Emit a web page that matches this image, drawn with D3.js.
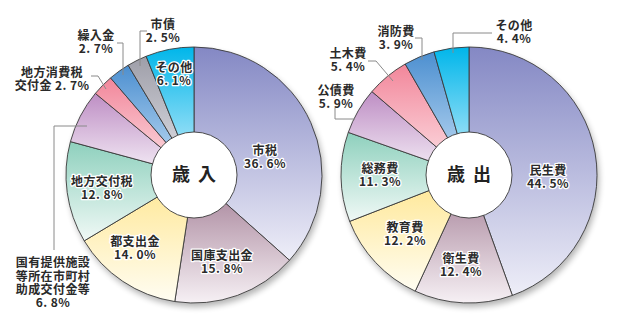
<!DOCTYPE html>
<html><head><meta charset="utf-8">
<script src="https://cdn.jsdelivr.net/npm/d3@7"></script>
<style>
html,body{margin:0;padding:0;background:#fff;}
svg{display:block;}
text{font-family:"Noto Sans CJK JP","Noto Sans",sans-serif;}
</style></head>
<body>
<svg id="chart" width="617" height="331"></svg>
<script>
// ---- data ----
const revenueCategories = ["市税","国庫支出金","都支出金","地方交付税","国有提供施設等所在市町村助成交付金等","地方消費税交付金","繰入金","市債","その他"];
const revenueValues = [36.6, 15.8, 14.0, 12.8, 6.8, 2.7, 2.7, 2.5, 6.1];
const revenueLabelLines = [["市税"],["国庫支出金"],["都支出金"],["地方交付税"],["国有提供施設","等所在市町村","助成交付金等"],["地方消費税","交付金 "],["繰入金"],["市債"],["その他"]];
const expenseCategories = ["民生費","衛生費","教育費","総務費","公債費","土木費","消防費","その他"];
const expenseValues = [44.5, 12.4, 12.2, 11.3, 5.9, 5.4, 3.9, 4.4];
const expenseLabelLines = [["民生費"],["衛生費"],["教育費"],["総務費"],["公債費"],["土木費"],["消防費"],["その他"]];
const centerTitles = [["歳","入"],["歳","出"]];

// ---- styles / layout ----
const palette = {
  indigo:["#8488c4","#eeeef8"],
  mauve:["#a07a92","#f6f0f4"],
  yellow:["#ffe690","#fffdf2"],
  teal:["#8ed0bd","#f0f9f6"],
  purple:["#be8ec4","#f6f0f8"],
  pink:["#f2869a","#fde4e8"],
  blue:["#4c8fd0","#c6e0f6"],
  gray:["#9e9ea8","#e4e4ea"],
  cyan:["#00b6ea","#cdeefb"]
};
const revenueColors = ["indigo","mauve","yellow","teal","purple","pink","blue","gray","cyan"];
const expenseColors = ["indigo","mauve","yellow","teal","purple","pink","blue","cyan"];
const revenueLayout = [
  {pos:[71,-18]},
  {pos:[28,87]},
  {pos:[-59,73]},
  {pos:[-92,13]},
  {pos:[-141,108], lead:[[-107,-49],[-140,-49],[-140,75]]},
  {pos:[-142,-96], inline:true, lead:[[-103,-99],[-96,-99],[-88,-86]]},
  {pos:[-98,-133], lead:[[-77,-132],[-71,-132],[-71,-100]]},
  {pos:[-31,-144], lead:[[-47,-144],[-54,-144],[-54,-109]]},
  {pos:[-20,-101]}
];
const expenseLayout = [
  {pos:[79,2]},
  {pos:[-8,90]},
  {pos:[-64,59]},
  {pos:[-89,0]},
  {pos:[-133,-78], lead:[[-134,-67],[-134,-56],[-114,-56]]},
  {pos:[-121,-115], lead:[[-101,-114],[-93,-114],[-76,-94]]},
  {pos:[-73,-137], lead:[[-54,-137],[-47,-137],[-47,-115]]},
  {pos:[45,-143], lead:[[23,-142],[-16,-142],[-16,-122]]}
];
const R = 128, r0 = 43;

const svg = d3.select("#chart");
const defs = svg.append("defs");
Object.entries(palette).forEach(([k,[c1,c2]])=>{
  const g = defs.append("linearGradient").attr("id","g-"+k).attr("x1",0).attr("y1",0).attr("x2",0).attr("y2",1);
  g.append("stop").attr("offset","0%").attr("stop-color",c1);
  g.append("stop").attr("offset","100%").attr("stop-color",c2);
});
const f = defs.append("filter").attr("id","shadow").attr("x","-20%").attr("y","-20%").attr("width","140%").attr("height","140%");
f.append("feGaussianBlur").attr("stdDeviation",3);

const fmt = v => v.toFixed(1).replace(".", ". ") + "%";

function drawPie(cx, cy, cats, vals, lines, colors, layout, title){
  const g = svg.append("g").attr("transform",`translate(${cx},${cy})`);
  g.append("circle").attr("cx",2).attr("cy",4).attr("r",R).attr("fill","#000").attr("opacity",0.3).attr("filter","url(#shadow)");
  const pie = d3.pie().sort(null).value(d=>d);
  const arcs = pie(vals);
  const arc = d3.arc().innerRadius(0).outerRadius(R);
  g.selectAll("path.slice").data(arcs).enter().append("path")
    .attr("class","slice")
    .attr("d",arc)
    .attr("fill",(d,i)=>`url(#g-${colors[i]})`)
    .attr("stroke","#3a3a3a").attr("stroke-width",0.9).attr("stroke-linejoin","round");
  g.append("circle").attr("r",r0).attr("fill","#fff").attr("stroke","#3a3a3a").attr("stroke-width",0.9);
  title.forEach((ch,k)=>{
    g.append("text").attr("x",k===0?-13:13).attr("y",0).attr("dy","0.36em").attr("text-anchor","middle")
      .attr("font-size",18).attr("font-weight","bold").attr("fill","#222").text(ch);
  });
  const line = d3.line();
  layout.forEach(L=>{
    if(L.lead) g.append("path").attr("d",line(L.lead)).attr("fill","none").attr("stroke","#8a8a8a").attr("stroke-width",1);
  });
  arcs.forEach((a,i)=>{
    const L = layout[i];
    let ls = lines[i].slice();
    if(L.inline){ ls[ls.length-1] = ls[ls.length-1] + fmt(vals[i]); }
    else ls.push(fmt(vals[i]));
    const lh = 13.3;
    const t = g.append("text").attr("text-anchor","middle").attr("font-size",12).attr("letter-spacing",0.4)
      .attr("font-weight","bold").attr("fill","#2a2a2a");
    if(!L.lead){ t.attr("stroke","#fff").attr("stroke-width",2.5).attr("paint-order","stroke").attr("stroke-linejoin","round"); }
    ls.forEach((s,j)=>{
      t.append("tspan").attr("x",L.pos[0]).attr("y",L.pos[1] + (j-(ls.length-1)/2)*lh).attr("dy","0.36em").text(s);
    });
  });
}
drawPie(194,175,revenueCategories,revenueValues,revenueLabelLines,revenueColors,revenueLayout,centerTitles[0]);
drawPie(469,175,expenseCategories,expenseValues,expenseLabelLines,expenseColors,expenseLayout,centerTitles[1]);
</script>
</body></html>
